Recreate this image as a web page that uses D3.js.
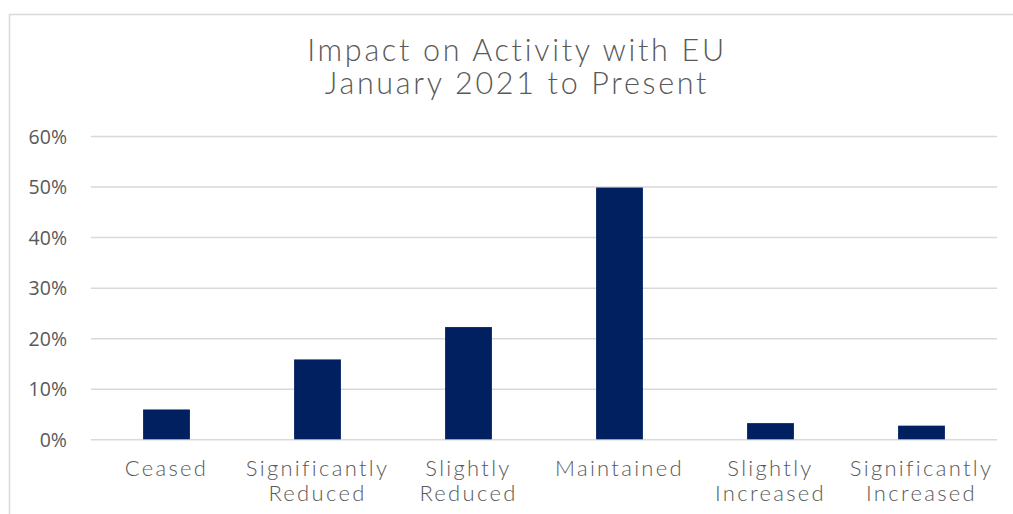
<!DOCTYPE html>
<html>
<head>
<meta charset="utf-8">
<script src="https://cdn.jsdelivr.net/npm/d3@7"></script>
<style>
  html, body { margin: 0; padding: 0; background: #fff; }
  svg { display: block; }
</style>
</head>
<body>
<svg id="chart" width="1013" height="514"></svg>
<script>
// Survey responses: share of firms by change in EU activity
const categories = [
  ["Ceased"],
  ["Significantly", "Reduced"],
  ["Slightly", "Reduced"],
  ["Maintained"],
  ["Slightly", "Increased"],
  ["Significantly", "Increased"]
];
const shares = [0.059, 0.158, 0.222, 0.498, 0.032, 0.027];
const yTicks = [0, 0.1, 0.2, 0.3, 0.4, 0.5, 0.6];
const titleLines = ["Impact on Activity with EU", "January 2021 to Present"];

const svg = d3.select("#chart");
const textColor = "#595959";
const gridColor = "#d9d9d9";
const barColor = "#002060";
const labelFont = "Lato, 'Open Sans', sans-serif";

// Chart frame (runs off the right and bottom edges)
svg.append("rect")
  .attr("x", 9.5).attr("y", 14.5)
  .attr("width", 1040).attr("height", 540)
  .attr("fill", "none")
  .attr("stroke", gridColor)
  .attr("stroke-width", 1.5);

const plot = { left: 91, right: 997, top: 136, bottom: 439.3 };

const x = d3.scaleBand()
  .domain(d3.range(categories.length))
  .range([plot.left, plot.right])
  .paddingInner(0.69)
  .paddingOuter(0.345);

const y = d3.scaleLinear()
  .domain([0, 0.6])
  .range([plot.bottom, plot.top]);

// Title, one text element per line
svg.append("g")
  .selectAll("text")
  .data(titleLines)
  .join("text")
  .attr("x", 517)
  .attr("y", (d, i) => 61 + i * 33)
  .attr("text-anchor", "middle")
  .attr("fill", textColor)
  .style("font-family", labelFont)
  .style("font-weight", 300)
  .style("font-size", "30.5px")
  .style("letter-spacing", "2.7px")
  .text(d => d);

// Horizontal gridlines + y-axis labels
const yAxis = d3.axisLeft(y)
  .tickValues(yTicks)
  .tickFormat(d3.format(".0%"))
  .tickSize(-(plot.right - plot.left))
  .tickPadding(24);

const gy = svg.append("g")
  .attr("transform", `translate(${plot.left},0)`)
  .call(yAxis);
gy.select(".domain").remove();
gy.selectAll(".tick line")
  .attr("stroke", gridColor)
  .attr("stroke-width", 1.5);
gy.selectAll(".tick text")
  .attr("fill", textColor)
  .attr("dy", "0.36em")
  .style("font-family", "'Open Sans', sans-serif")
  .style("font-size", "19.5px");

// Bars
svg.append("g")
  .selectAll("rect")
  .data(shares)
  .join("rect")
  .attr("x", (d, i) => x(i))
  .attr("width", x.bandwidth())
  .attr("y", d => y(d))
  .attr("height", d => y(0) - y(d))
  .attr("fill", barColor);

// Category labels
const xAxis = d3.axisBottom(x).tickSize(0).tickFormat("");
const gx = svg.append("g")
  .attr("transform", `translate(0,${plot.bottom})`)
  .call(xAxis);
gx.select(".domain").remove();
gx.selectAll(".tick").each(function(i) {
  const t = d3.select(this).append("text")
    .attr("text-anchor", "middle")
    .attr("fill", textColor)
    .style("font-family", labelFont)
    .style("font-weight", 300)
    .style("font-size", "22px")
    .style("letter-spacing", "2.3px");
  t.selectAll("tspan")
    .data(categories[i])
    .join("tspan")
    .attr("x", 0)
    .attr("y", (d, k) => 36.5 + k * 25)
    .text(d => d);
});
</script>
</body>
</html>
